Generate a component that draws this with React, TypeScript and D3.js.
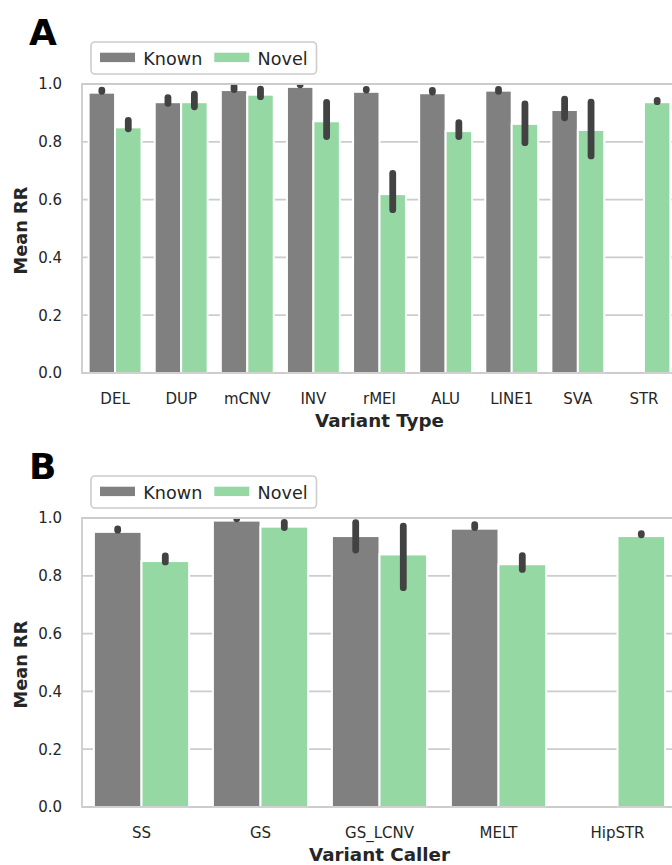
import * as d3 from "d3";

const typesA = ["DEL", "DUP", "mCNV", "INV", "rMEI", "ALU", "LINE1", "SVA", "STR"];
const knownA = [0.970, 0.937, 0.979, 0.990, 0.973, 0.968, 0.977, 0.910, null];
const knownLoA = [0.975, 0.933, 0.981, 0.997, 0.979, 0.972, 0.975, 0.883, null];
const knownHiA = [0.979, 0.953, 0.991, 1.0, 0.981, 0.978, 0.981, 0.948, null];
const novelA = [0.850, 0.937, 0.963, 0.871, 0.619, 0.837, 0.862, 0.841, 0.937];
const novelLoA = [0.845, 0.921, 0.956, 0.818, 0.565, 0.818, 0.797, 0.751, 0.939];
const novelHiA = [0.874, 0.965, 0.982, 0.936, 0.691, 0.866, 0.931, 0.937, 0.943];

const callersB = ["SS", "GS", "GS_LCNV", "MELT", "HipSTR"];
const knownB = [0.952, 0.991, 0.9375, 0.963, null];
const knownLoB = [0.958, 0.997, 0.889, 0.967, null];
const knownHiB = [0.962, 1.0, 0.984, 0.977, null];
const novelB = [0.851, 0.970, 0.874, 0.840, 0.9375];
const novelLoB = [0.848, 0.967, 0.759, 0.822, 0.942];
const novelHiB = [0.869, 0.985, 0.972, 0.870, 0.946];

const hues = ["Known", "Novel"];
const colors = ["#808080", "#95d8a4"];
const yTicks = [0, 0.2, 0.4, 0.6, 0.8, 1.0];

const font = "DejaVu Sans";
const textColor = "#262626";
const gridColor = "#cccccc";

function Panel({ id, top, letter, cats, known, knownLo, knownHi, novel, novelLo, novelHi, xLabel }) {
  const left = 82;
  const right = 677;
  const plotTop = top + 42;
  const plotBottom = plotTop + 289;

  const x = d3.scaleBand().domain(cats).range([left, right]).paddingInner(0.2).paddingOuter(0.1);
  const xh = d3.scaleBand().domain(hues).range([0, x.bandwidth()]);
  const y = d3.scaleLinear().domain([0, 1]).range([plotBottom, plotTop]);

  const series = [
    { name: "Known", vals: known, lo: knownLo, hi: knownHi },
    { name: "Novel", vals: novel, lo: novelLo, hi: novelHi },
  ];

  return (
    <g>
      <defs>
        <clipPath id={`clip-${id}`}>
          <rect x={left} y={plotTop} width={right - left} height={plotBottom - plotTop} />
        </clipPath>
      </defs>
      <text x={29} y={top + 3} fontFamily={font} fontWeight="bold" fontSize={36} fill="#000">
        {letter}
      </text>
      {/* grid */}
      {yTicks.map((t) => (
        <line key={t} x1={left} x2={right} y1={y(t)} y2={y(t)} stroke={gridColor} strokeWidth={1.8} />
      ))}
      {/* bars */}
      {series.map((s, si) =>
        cats.map((c, i) =>
          s.vals[i] == null ? null : (
            <rect
              key={s.name + c}
              x={x(c) + xh(s.name)}
              y={y(s.vals[i])}
              width={xh.bandwidth()}
              height={y(0) - y(s.vals[i])}
              fill={colors[si]}
              stroke="#fff"
              strokeWidth={2}
            />
          )
        )
      )}
      {/* error bars */}
      <g clipPath={`url(#clip-${id})`}>
        {series.map((s) =>
          cats.map((c, i) =>
            s.vals[i] == null ? null : (
              <line
                key={"e" + s.name + c}
                x1={x(c) + xh(s.name) + xh.bandwidth() / 2}
                x2={x(c) + xh(s.name) + xh.bandwidth() / 2}
                y1={y(s.lo[i])}
                y2={y(s.hi[i])}
                stroke="#424242"
                strokeWidth={6.8}
                strokeLinecap="round"
              />
            )
          )
        )}
      </g>
      {/* spines */}
      <rect x={left} y={plotTop} width={right - left} height={plotBottom - plotTop} fill="none" stroke={gridColor} strokeWidth={1.8} />
      {/* y ticks */}
      {yTicks.map((t) => (
        <text key={"yt" + t} x={62} y={y(t)} dy="0.36em" textAnchor="end" fontFamily={font} fontSize={15} fill={textColor}>
          {d3.format(".1f")(t)}
        </text>
      ))}
      {/* x ticks */}
      {cats.map((c) => (
        <text key={"xt" + c} x={x(c) + x.bandwidth() / 2} y={plotBottom + 31} textAnchor="middle" fontFamily={font} fontSize={15} fill={textColor}>
          {c}
        </text>
      ))}
      <text x={(left + right) / 2} y={plotBottom + 54} textAnchor="middle" fontFamily={font} fontWeight="bold" fontSize={18.3} fill={textColor}>
        {xLabel}
      </text>
      <text transform={`translate(27,${(plotTop + plotBottom) / 2 + 2}) rotate(-90)`} textAnchor="middle" fontFamily={font} fontWeight="bold" fontSize={17.8} fill={textColor}>
        Mean RR
      </text>
      {/* legend */}
      <rect x={91} y={top} width={225.5} height={32} rx={4} fill="#fff" fillOpacity={0.8} stroke={gridColor} strokeWidth={1.6} />
      {hues.map((h, i) => (
        <g key={h} transform={`translate(${100 + i * 114.3},${top})`}>
          <rect x={0} y={10.7} width={35} height={9.4} fill={colors[i]} />
          <text x={43.3} y={22.5} fontFamily={font} fontSize={17.6} fill={textColor}>
            {h}
          </text>
        </g>
      ))}
    </g>
  );
}

export default function App() {
  return (
    <svg width={672} height={865} style={{ position: "absolute", left: 0, top: 0, background: "#fff" }}>
      <Panel id="a" top={42} letter="A" cats={typesA} known={knownA} knownLo={knownLoA} knownHi={knownHiA}
        novel={novelA} novelLo={novelLoA} novelHi={novelHiA} xLabel="Variant Type" />
      <Panel id="b" top={476} letter="B" cats={callersB} known={knownB} knownLo={knownLoB} knownHi={knownHiB}
        novel={novelB} novelLo={novelLoB} novelHi={novelHiB} xLabel="Variant Caller" />
    </svg>
  );
}
